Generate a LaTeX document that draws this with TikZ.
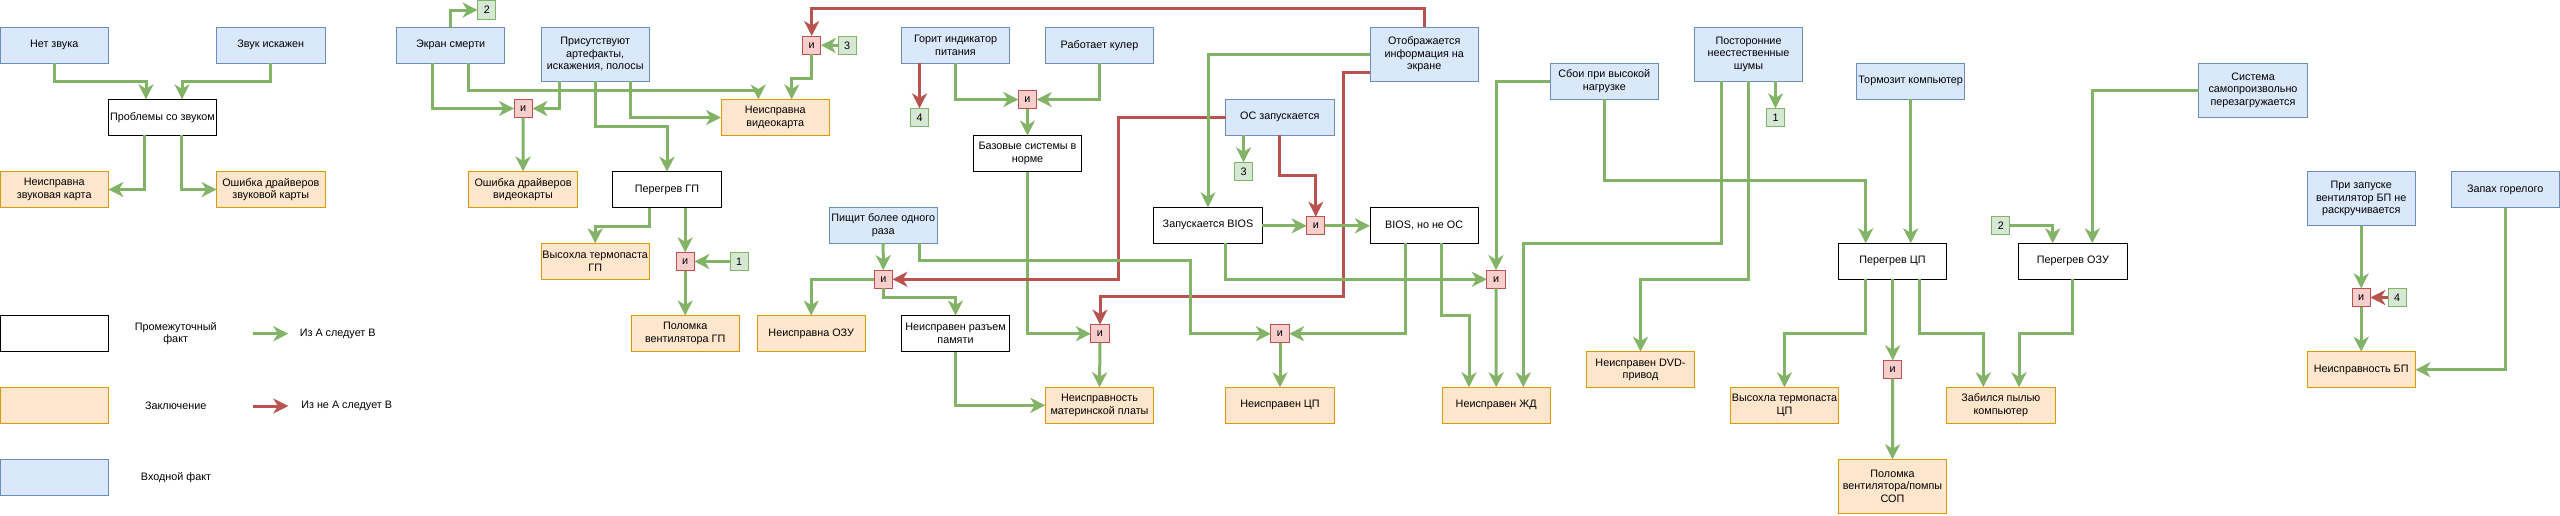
\documentclass[tikz,border=0pt]{standalone}
\usepackage{fontspec}
\setmainfont{Liberation Sans}
\usetikzlibrary{arrows.meta}
\definecolor{inFill}{HTML}{DAE8FC}
\definecolor{inDraw}{HTML}{6C8EBF}
\definecolor{outFill}{HTML}{FFE6CC}
\definecolor{outDraw}{HTML}{D79B00}
\definecolor{andFill}{HTML}{F8CECC}
\definecolor{andDraw}{HTML}{B85450}
\definecolor{numFill}{HTML}{D5E8D4}
\definecolor{numDraw}{HTML}{82B366}
\definecolor{arrGreen}{HTML}{82B366}
\definecolor{arrRed}{HTML}{B85450}
\tikzset{
  txt/.style={font=\fontsize{10.8}{12.4}\selectfont, align=center, inner sep=0.75pt},
  box/.style={txt, draw, line width=1pt, minimum width=108.4pt, minimum height=36pt, inner sep=1pt, outer sep=0pt},
  tallbox/.style={minimum height=54pt},
  infact/.style={box, draw=inDraw, fill=inFill},
  midfact/.style={box, draw=black, fill=white},
  concl/.style={box, draw=outDraw, fill=outFill},
  andbox/.style={txt, draw=andDraw, fill=andFill, line width=1pt, minimum size=18.3pt, inner sep=0pt, outer sep=0pt},
  numbox/.style={txt, draw=numDraw, fill=numFill, line width=1pt, minimum size=18.3pt, inner sep=0pt, outer sep=0pt},
  ga/.style={draw=arrGreen, line width=3pt, -{Stealth[length=15pt,width=15pt,inset=4.5pt]}},
  ra/.style={draw=arrRed, line width=3pt, -{Stealth[length=15pt,width=15pt,inset=4.5pt]}}
}
\begin{document}
\begin{tikzpicture}[x=1pt,y=1pt,yscale=-1,xscale=1]
        \useasboundingbox (0,0) rectangle (2560,515);

        %Shape: Sound block
        \node[infact] (nz) at (54.2,45.3) {Нет звука};
        \node[infact] (zi) at (270.8,45.3) {Звук искажен};
        \node[midfact] (ps) at (162.5,117.3) {Проблемы со звуком};
        \node[concl] (nzk) at (54.2,189.5) {Неисправна\\звуковая карта};
        \node[concl] (odz) at (270.8,189.5) {Ошибка драйверов\\звуковой карты};

        %Shape: Legend
        \node[midfact] (lgm) at (54.2,333.5) {};
        \node[concl] (lgz) at (54.2,405.3) {};
        \node[infact] (lgv) at (54.2,477.3) {};
        % Text Node
        \node[txt] (lgmt) at (175.7,333.7) {Промежуточный\\факт};
        % Text Node
        \node[txt] (lgzt) at (175.7,406) {Заключение};
        % Text Node
        \node[txt] (lgvt) at (176,477.7) {Входной факт};
        \coordinate (lgg1) at (252.7,333.7);
        \coordinate (lgg2) at (288.3,333.7);
        \coordinate (lgr1) at (252.7,406);
        \coordinate (lgr2) at (288.3,406);
        % Text Node
        \node[txt] (lggt) at (337.7,333.7) {Из А следует В};
        % Text Node
        \node[txt] (lgrt) at (346.7,406) {Из не А следует В};

        %Shape: Video block
        \node[infact] (es) at (450.7,45.3) {Экран смерти};
        \node[numbox] (n2a) at (486.8,10) {2};
        \node[infact,tallbox] (art) at (595.2,54.2) {Присутствуют\\артефакты,\\искажения, полосы};
        \node[andbox] (and1) at (523.2,108.5) {и};
        \node[concl] (odv) at (523,189.5) {Ошибка драйверов\\видеокарты};
        \node[concl] (nv) at (775.2,117.5) {Неисправна\\видеокарта};
        \node[midfact] (pgp) at (667,189.7) {Перегрев ГП};
        \node[andbox] (and2) at (811.7,45.2) {и};
        \node[numbox] (n3a) at (847.2,45.5) {3};
        \node[concl] (vtg) at (595.2,261.3) {Высохла термопаста\\ГП};
        \node[andbox] (and3) at (685.2,261.5) {и};
        \node[numbox] (n1a) at (739.2,261.5) {1};
        \node[concl] (pvg) at (685.2,333.5) {Поломка\\вентилятора ГП};
        \node[concl] (nozu) at (811.2,333.5) {Неисправна ОЗУ};

        %Shape: Power and boot block
        \node[infact] (gip) at (955.5,45.3) {Горит индикатор\\питания};
        \node[infact] (rk) at (1099.5,45.3) {Работает кулер};
        \node[numbox] (n4a) at (919.5,117.5) {4};
        \node[andbox] (and5) at (1027.5,99.5) {и};
        \node[midfact] (bsn) at (1027.5,153.5) {Базовые системы в\\норме};
        \node[infact] (pbr) at (883.2,225.3) {Пищит более одного\\раза};
        \node[andbox] (and4) at (883.3,279.3) {и};
        \node[midfact] (nrp) at (955.5,333.5) {Неисправен разъем\\памяти};
        \node[andbox] (and6) at (1100,333.7) {и};
        \node[concl] (nmp) at (1099.5,405.3) {Неисправность\\материнской платы};
        \node[infact] (os) at (1279.8,117.3) {ОС запускается};
        \node[numbox] (n3b) at (1243.5,171.5) {3};
        \node[midfact] (zb) at (1208,225.3) {Запускается BIOS};
        \node[andbox] (and8) at (1315.8,225.8) {и};
        \node[midfact] (bno) at (1424.2,225.3) {BIOS, но не ОС};
        \node[infact,tallbox] (od) at (1424.2,54.2) {Отображается\\информация на\\экране};
        \node[andbox] (and7) at (1280,333.7) {и};
        \node[concl] (ncp) at (1280,405.3) {Неисправен ЦП};
        \node[andbox] (and9) at (1496,279.3) {и};
        \node[concl] (nzd) at (1496.2,405.3) {Неисправен ЖД};

        %Shape: Load and noise block
        \node[infact] (sbn) at (1604.3,81.3) {Сбои при высокой\\нагрузке};
        \node[infact,tallbox] (pns) at (1748.5,54.2) {Посторонние\\неестественные\\шумы};
        \node[numbox] (n1b) at (1775.5,117.5) {1};
        \node[concl] (ndvd) at (1640.5,369.7) {Неисправен DVD-\\привод};
        \node[infact] (tk) at (1910.7,81.3) {Тормозит компьютер};
        \node[midfact] (pcp) at (1892.5,261.3) {Перегрев ЦП};
        \node[numbox] (n2b) at (2000.8,225.8) {2};
        \node[midfact] (pozu) at (2072.8,261.3) {Перегрев ОЗУ};
        \node[infact,tallbox] (ssp) at (2253,90.3) {Система\\самопроизвольно\\перезагружается};
        \node[concl] (vtc) at (1784.5,405.3) {Высохла термопаста\\ЦП};
        \node[concl] (zpk) at (2000.8,405.3) {Забился пылью\\компьютер};
        \node[andbox] (and10) at (1892.7,369.5) {и};
        \node[concl,tallbox] (pvs) at (1892.5,486.3) {Поломка\\вентилятора/помпы\\СОП};

        %Shape: Power supply block
        \node[infact,tallbox] (pzb) at (2361.2,198.7) {При запуске\\вентилятор БП не\\раскручивается};
        \node[infact] (zg) at (2505.2,189.7) {Запах горелого};
        \node[andbox] (and11) at (2361.2,297.5) {и};
        \node[numbox] (n4b) at (2397.2,297.5) {4};
        \node[concl] (nbp) at (2361.2,369.7) {Неисправность БП};

        % Connectors: sound
        \draw[ga] (nz.south) -- ++(0,17.7) -| ([xshift=-16.5]ps.north);
        \draw[ga] (zi.south) -- ++(0,17.7) -| ([xshift=19.5]ps.north);
        \draw[ga] ([xshift=-17.8]ps.south) |- (nzk.east);
        \draw[ga] ([xshift=18.5]ps.south) |- (odz.west);

        % Connectors: legend
        \draw[ga] (lgg1) -- (lgg2);
        \draw[ra] (lgr1) -- (lgr2);

        % Connectors: video
        \draw[ga] (es.north) |- (n2a.west);
        \draw[ga] ([xshift=-18.4]es.south) |- (and1.west);
        \draw[ga] ([xshift=-35.9]art.south) |- (and1.east);
        \draw[ga] (and1.south) -- (odv.north);
        \draw[ga] ([xshift=18]es.south) -- ++(0,26.7) -| ([xshift=-16.9]nv.north);
        \draw[ga] ([xshift=35.5]art.south) |- (nv.west);
        \draw[ga] (art.south) -- ++(0,45) -| (pgp.north);
        \draw[ra] (od.north) -- ++(0,-18.3) -| (and2.north);
        \draw[ga] (n3a.west) -- (and2.east);
        \draw[ga] (and2.south) -- ++(0,24) -| ([xshift=16.5]nv.north);
        \draw[ga] ([xshift=-17.7]pgp.south) -- ++(0,19) -| (vtg.north);
        \draw[ga] (and3.north |- pgp.south) -- (and3.north);
        \draw[ga] (n1a.west) -- (and3.east);
        \draw[ga] (and3.south) -- (pvg.north);

        % Connectors: power and boot
        \draw[ra] (n4a.north |- gip.south) -- (n4a.north);
        \draw[ga] (gip.south) |- (and5.west);
        \draw[ga] (rk.south) |- (and5.east);
        \draw[ga] (and5.south) -- (bsn.north);
        \draw[ga] (bsn.south) |- (and6.west);
        \draw[ra] ([yshift=17.8]od.west) -- (1343.3,72) -- (1343.3,296.7) -| (and6.north);
        \draw[ga] (and6.south) -- (nmp.north);
        \draw[ga] (nrp.south) |- (nmp.west);
        \draw[ga] (pbr.south) -- (and4.north);
        \draw[ga] (and4.west) -| (nozu.north);
        \draw[ra] (os.west) -- (1118.3,117.3) |- (and4.east);
        \draw[ga] (and4.south) -- ++(0,9) -| (nrp.north);
        \draw[ga] ([xshift=35.8]pbr.south) -- ++(0,17.4) -| (1190,333.7) -- (and7.west);
        \draw[ga] (n3b.north |- os.south) -- (n3b.north);
        \draw[ra] (os.south) -- ++(0,39.7) -| (and8.north);
        \draw[ga] (and8.west -| zb.east) -- (and8.west);
        \draw[ga] (and8.east) -- (bno.west |- and8.east);
        \draw[ga] (od.west) -| (zb.north);
        \draw[ga] ([xshift=17.7]zb.south) |- (and9.west);
        \draw[ga] (sbn.west) -| (and9.north);
        \draw[ga] (and9.south) -- (nzd.north);
        \draw[ga] ([xshift=-18.9]bno.south) |- (and7.east);
        \draw[ga] (and7.south) -- (ncp.north);
        \draw[ga] ([xshift=17.5]bno.south) -- ++(0,72) -| ([xshift=-27.2]nzd.north);

        % Connectors: load and noise
        \draw[ga] ([xshift=-26.8]pns.south) -- ++(0,162.1) -| ([xshift=27.1]nzd.north);
        \draw[ga] (pns.south) -- ++(0,198.1) -| (ndvd.north);
        \draw[ga] (n1b.north |- pns.south) -- (n1b.north);
        \draw[ga] (sbn.south) -- ++(0,80.7) -| ([xshift=-26.8]pcp.north);
        \draw[ga] (tk.south) -- (tk.south |- pcp.north);
        \draw[ga] (n2b.east) -| ([xshift=-20.1]pozu.north);
        \draw[ga] (ssp.west) -| ([xshift=19.5]pozu.north);
        \draw[ga] ([xshift=-26.8]pcp.south) -- ++(0,54.4) -| (vtc.north);
        \draw[ga] (and10.north |- pcp.south) -- (and10.north);
        \draw[ga] (and10.south) -- (pvs.north);
        \draw[ga] ([xshift=26.5]pcp.south) -- ++(0,54.4) -| ([xshift=-17.5]zpk.north);
        \draw[ga] (pozu.south) -- ++(0,54.4) -| ([xshift=18.2]zpk.north);

        % Connectors: power supply
        \draw[ga] (pzb.south) -- (and11.north);
        \draw[ra] (n4b.west) -- (and11.east);
        \draw[ga] (and11.south) -- (nbp.north);
        \draw[ga] (zg.south) |- (nbp.east);

\end{tikzpicture}
\end{document}
